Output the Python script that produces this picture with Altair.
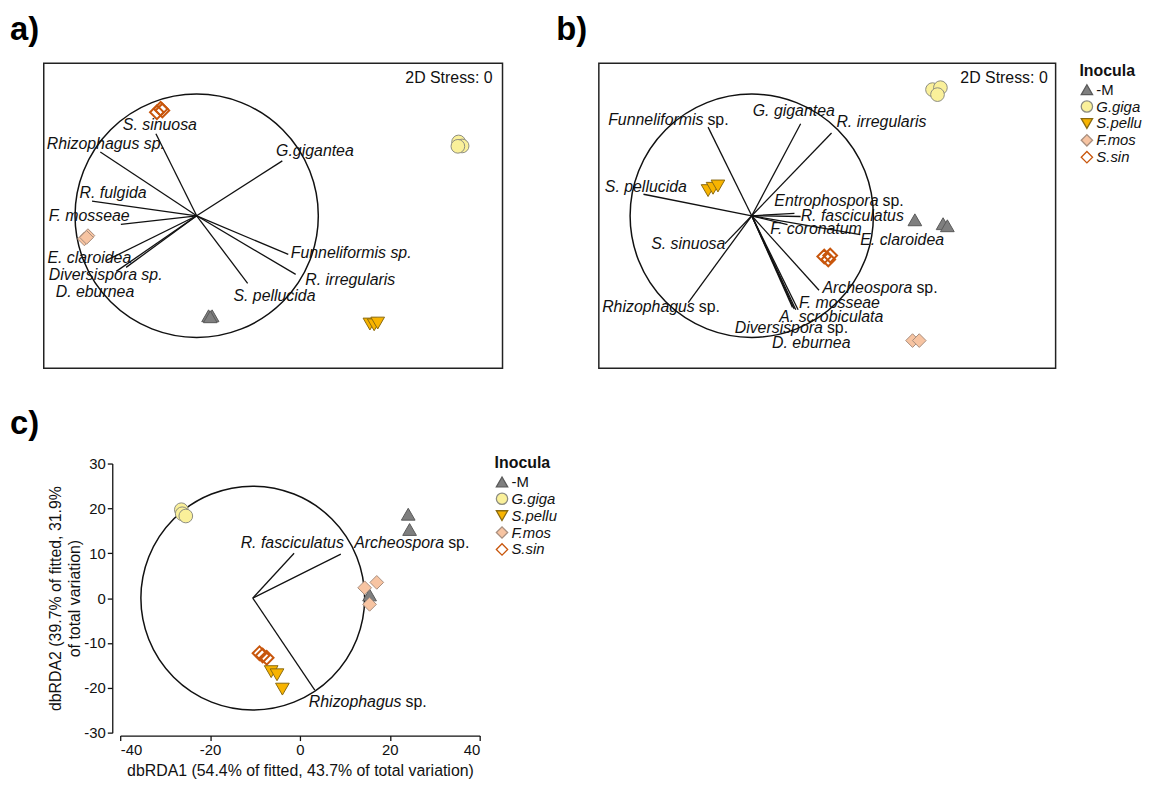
import altair as alt
import pandas as pd

FONT = "Liberation Sans"
INK = "#111111"

# ---------------- shared groups ----------------
GROUPS = ["-M", "G.giga", "S.pellu", "F.mos", "S.sin"]
FILL_RANGE = ["#7f7f7f", "#faf09a", "#f8b400", "#f7c4a2", "transparent"]
STROKE_RANGE = ["#5a5a5a", "#8c8c80", "#8a6a10", "#a88e7e", "#c8560c"]
SHAPE_RANGE = ["triangle-up", "circle", "triangle-down", "diamond", "diamond"]

# ---------------- panel a (NMDS, circle radius = 1) ----------------
A_VEC_NAMES = ["S. sinuosa", "Rhizophagus sp.", "G.gigantea", "R. fulgida", "F. mosseae",
               "E. claroidea", "Diversispora sp.", "D. eburnea", "S. pellucida",
               "Funneliformis sp.", "R. irregularis"]
A_VEC_X = [-0.335, -0.792, 0.704, -0.860, -0.623, -0.743, -0.661, -0.580, 0.419, 0.753, 0.814]
A_VEC_Y = [0.675, 0.525, 0.451, 0.120, -0.071, -0.367, -0.457, -0.424, -0.555, -0.318, -0.482]
A_LAB_X = [-0.607, -1.233, 0.653, -0.963, -1.216, -1.227, -1.216, -1.159, 0.302, 0.773, 0.893]
A_LAB_Y = [0.743, 0.588, 0.531, 0.188, 0.002, -0.351, -0.490, -0.626, -0.661, -0.310, -0.531]
A_PT_GROUP = ["S.sin"] * 3 + ["G.giga"] * 3 + ["F.mos"] * 3 + ["-M"] * 3 + ["S.pellu"] * 3
A_PT_X = [-0.296, -0.327, -0.282, 2.153, 2.182, 2.147, -0.894, -0.923, -0.905,
          0.098, 0.127, 0.112, 1.424, 1.459, 1.488]
A_PT_Y = [0.879, 0.851, 0.865, 0.607, 0.574, 0.571, -0.163, -0.190, -0.178,
          -0.822, -0.822, -0.830, -0.890, -0.896, -0.882]

# ---------------- panel b ----------------
B_VEC_NAMES = ["Funneliformis sp.", "G. gigantea", "R. irregularis", "S. pellucida",
               "Entrophospora sp.", "R. fasciculatus", "F. coronatum", "E. claroidea",
               "Archeospora sp.", "S. sinuosa", "Rhizophagus sp.", "F. mosseae",
               "A. scrobiculata", "Diversispora sp.", "D. eburnea"]
B_VEC_X = [-0.359, 0.402, 0.656, -0.890, 0.351, 0.402, 0.294, 0.892, 0.553, -0.220,
           -0.522, 0.381, 0.362, 0.349, 0.335]
B_VEC_Y = [0.729, 0.757, 0.680, 0.177, 0.020, -0.006, -0.073, -0.155, -0.612, -0.229,
           -0.713, -0.773, -0.773, -0.767, -0.753]
B_LAB_TEXT = ["G. gigantea", "R. irregularis", "S. pellucida", "R. fasciculatus",
              "F. coronatum", "E. claroidea", "S. sinuosa", "F. mosseae",
              "A. scrobiculata", "D. eburnea"]
B_LAB_X = [0.008, 0.696, -1.208, 0.402, 0.153, 0.892, -0.827, 0.389, 0.226, 0.166]
B_LAB_Y = [0.865, 0.770, 0.239, -0.006, -0.109, -0.196, -0.229, -0.721, -0.830, -1.047]
B_SP_TEXT = ["Funneliformis", "Entrophospora", "Archeospora", "Diversispora", "Rhizophagus"]
B_SP_X = [-0.397, 1.042, 1.321, 0.585, -0.468]
B_SP_Y = [0.784, 0.122, -0.590, -0.925, -0.753]
B_PT_GROUP = ["G.giga"] * 3 + ["S.pellu"] * 3 + ["-M"] * 3 + ["S.sin"] * 3 + ["F.mos"] * 2
B_PT_X = [1.486, 1.551, 1.527, -0.359, -0.318, -0.278, 1.341, 1.573, 1.608,
          0.596, 0.629, 0.645, 1.322, 1.377]
B_PT_Y = [1.037, 1.053, 0.996, 0.207, 0.226, 0.245, -0.033, -0.065, -0.082,
          -0.335, -0.359, -0.327, -1.026, -1.026]

STRESS_TEXT = "2D Stress: 0"
STRESS_POS = (2.433, 1.13)

# ---------------- panel c (dbRDA) ----------------
C_CENTER = (-10.5, 0.0)
C_VEC_NAMES = ["R. fasciculatus", "Archeospora sp.", "Rhizophagus sp."]
C_VEC_X = [-1.3, 9.1, 3.3]
C_VEC_Y = [10.0, 9.8, -20.5]
C_LAB_TEXT = ["R. fasciculatus"]
C_LAB_X = [-13.2]
C_LAB_Y = [12.2]
C_SP_TEXT = ["Archeospora", "Rhizophagus"]
C_SP_X = [32.1, 22.6]
C_SP_Y = [12.2, -23.1]
C_PT_GROUP = ["G.giga"] * 3 + ["-M"] * 3 + ["F.mos"] * 3 + ["S.sin"] * 3 + ["S.pellu"] * 3
C_PT_X = [-26.4, -26.2, -25.4, 24.1, 24.4, 15.5, 14.4, 17.1, 15.5,
          -9.0, -8.3, -7.4, -6.4, -5.1, -3.9]
C_PT_Y = [19.7, 18.8, 18.3, 18.7, 15.3, 0.7, 2.3, 3.5, -1.4,
          -12.3, -12.8, -13.3, -16.4, -17.1, -20.3]
C_X_TICKS = [-40, -20, 0, 20, 40]
C_Y_TICKS = [-30, -20, -10, 0, 10, 20, 30]
C_X_TITLE = "dbRDA1 (54.4% of fitted, 43.7% of total variation)"
C_Y_TITLE = ["dbRDA2 (39.7% of fitted, 31.9%", "of total variation)"]

# layout (pixels)
A_W, B_W, NMDS_H = 462, 460, 307
C_LEFT_GAP, C_PLOT_W, C_H = 77, 362, 271


def inocula_legend(**pos):
    return alt.Legend(
        title="Inocula",
        titleFont=FONT, titleFontSize=16, titleFontWeight="bold", titleColor=INK,
        titlePadding=3,
        labelFont=FONT, labelFontSize=15, labelColor=INK,
        labelFontStyle=alt.ExprRef(expr="datum.label == '-M' ? 'normal' : 'italic'"),
        symbolSize=130, symbolStrokeWidth=1.3, rowPadding=0, labelOffset=2, padding=0,
        **pos,
    )


def build_panel(xs, ys, width, height, center, circle_size,
                vec_x, vec_y, lab_text, lab_x, lab_y, sp_text, sp_x, sp_y,
                pt_group, pt_x, pt_y, legend, xaxis=None, yaxis=None,
                stress=False, framed=True, title=None):
    def X(f):
        return alt.X(f, type="quantitative", scale=xs, axis=xaxis)

    def Y(f):
        return alt.Y(f, type="quantitative", scale=ys, axis=yaxis)

    layers = []
    circ = pd.DataFrame({"x": [center[0]], "y": [center[1]]})
    layers.append(alt.Chart(circ).mark_point(
        shape="circle", size=circle_size, filled=False, stroke=INK,
        strokeWidth=1.5, opacity=1).encode(x=X("x"), y=Y("y")))

    n = len(vec_x)
    vec = pd.DataFrame({"x0": [center[0]] * n, "y0": [center[1]] * n,
                        "x1": vec_x, "y1": vec_y})
    layers.append(alt.Chart(vec).mark_rule(color=INK, strokeWidth=1.3).encode(
        x=X("x0"), y=Y("y0"), x2="x1", y2="y1"))

    lab = pd.DataFrame({"label": lab_text, "x": lab_x, "y": lab_y})
    layers.append(alt.Chart(lab).mark_text(
        align="left", baseline="middle", font=FONT, fontSize=16,
        fontStyle="italic", color=INK).encode(x=X("x"), y=Y("y"), text="label:N"))

    if sp_text:
        sp = pd.DataFrame({"genus": sp_text, "suffix": ["sp."] * len(sp_text),
                           "x": sp_x, "y": sp_y})
        layers.append(alt.Chart(sp).mark_text(
            align="right", baseline="middle", font=FONT, fontSize=16,
            fontStyle="italic", color=INK).encode(x=X("x"), y=Y("y"), text="genus:N"))
        layers.append(alt.Chart(sp).mark_text(
            align="left", baseline="middle", font=FONT, fontSize=16, dx=4,
            color=INK).encode(x=X("x"), y=Y("y"), text="suffix:N"))

    if stress:
        st = pd.DataFrame({"t": [STRESS_TEXT], "x": [STRESS_POS[0]], "y": [STRESS_POS[1]]})
        layers.append(alt.Chart(st).mark_text(
            align="right", baseline="middle", font=FONT, fontSize=16,
            color=INK).encode(x=X("x"), y=Y("y"), text="t:N"))

    pts = pd.DataFrame({"Inocula": pt_group, "x": pt_x, "y": pt_y})

    def sc(r):
        return alt.Scale(domain=GROUPS, range=r)

    layers.append(alt.Chart(pts).mark_point(filled=True, size=190, opacity=1).encode(
        x=X("x"), y=Y("y"),
        fill=alt.Fill("Inocula:N", scale=sc(FILL_RANGE), legend=legend),
        stroke=alt.Stroke("Inocula:N", scale=sc(STROKE_RANGE), legend=legend),
        shape=alt.Shape("Inocula:N", scale=sc(SHAPE_RANGE), legend=legend),
        strokeWidth=alt.condition(alt.datum.Inocula == "S.sin", alt.value(2), alt.value(1)),
    ))

    props = dict(width=width, height=height)
    if title is not None:
        props["title"] = title
    if framed:
        props["view"] = alt.ViewBackground(stroke="#222222", strokeWidth=1.5)
    return alt.layer(*layers).properties(**props)


def panel_title(text, dx, offset):
    return alt.TitleParams(text=text, anchor="start", frame="group", dx=dx, offset=offset,
                           fontSize=33, fontWeight="bold", font=FONT, color="#000000")


def lin(dom):
    return alt.Scale(domain=dom, nice=False, zero=False)


NMDS_CIRCLE = 245 ** 2

chart_a = build_panel(lin([-1.257, 2.514]), lin([-1.253, 1.253]), A_W, NMDS_H,
                      (0.0, 0.0), NMDS_CIRCLE,
                      A_VEC_X, A_VEC_Y, A_VEC_NAMES, A_LAB_X, A_LAB_Y, [], [], [],
                      A_PT_GROUP, A_PT_X, A_PT_Y, legend=None, stress=True,
                      title=panel_title("a)", -34, 17))

chart_b = build_panel(lin([-1.257, 2.498]), lin([-1.253, 1.253]), B_W, NMDS_H,
                      (0.0, 0.0), NMDS_CIRCLE,
                      B_VEC_X, B_VEC_Y, B_LAB_TEXT, B_LAB_X, B_LAB_Y,
                      B_SP_TEXT, B_SP_X, B_SP_Y,
                      B_PT_GROUP, B_PT_X, B_PT_Y,
                      legend=inocula_legend(orient="right", offset=24), stress=True,
                      title=panel_title("b)", -43, 17))

c_xaxis = alt.Axis(values=C_X_TICKS, title=C_X_TITLE, grid=False, offset=3, tickSize=5,
                   tickWidth=1.3, domainWidth=1.3, domainColor=INK, tickColor=INK,
                   labelColor=INK, labelFont=FONT, labelFontSize=15, labelPadding=2,
                   titleFont=FONT, titleFontSize=16, titleFontWeight="normal",
                   titleColor=INK, titlePadding=5, labelExpr="toString(datum.value)")
c_yaxis = alt.Axis(values=C_Y_TICKS, title=C_Y_TITLE, grid=False,
                   offset=-(C_LEFT_GAP - 8), tickSize=5,
                   tickWidth=1.3, domainWidth=1.3, domainColor=INK, tickColor=INK,
                   labelColor=INK, labelFont=FONT, labelFontSize=15, labelPadding=2,
                   titleFont=FONT, titleFontSize=16, titleFontWeight="normal",
                   titleColor=INK, titlePadding=1, titleLineHeight=19,
                   labelExpr="toString(datum.value)")

C_CIRCLE = (2 * 24.9 * C_PLOT_W / 80) ** 2
c_xscale = alt.Scale(domain=[-40, 40], range=[C_LEFT_GAP, C_LEFT_GAP + C_PLOT_W],
                     nice=False, zero=False)

chart_c = build_panel(c_xscale, lin([-30, 30]), C_LEFT_GAP + C_PLOT_W, C_H,
                      C_CENTER, C_CIRCLE,
                      C_VEC_X, C_VEC_Y, C_LAB_TEXT, C_LAB_X, C_LAB_Y,
                      C_SP_TEXT, C_SP_X, C_SP_Y,
                      C_PT_GROUP, C_PT_X, C_PT_Y,
                      legend=inocula_legend(orient="none",
                                            legendX=C_LEFT_GAP + C_PLOT_W + 15,
                                            legendY=-8),
                      xaxis=c_xaxis, yaxis=c_yaxis, framed=False,
                      title=panel_title("c)", -34, 15))

RES = dict(x="independent", y="independent", fill="independent",
           stroke="independent", shape="independent")

top = alt.hconcat(chart_a, chart_b, spacing=52).resolve_scale(**RES)

chart = alt.vconcat(top, chart_c, spacing=38).resolve_scale(**RES).properties(
    padding={"left": 1, "top": 2, "right": 0, "bottom": 5}
).configure(font=FONT).configure_view(stroke="transparent")

chart.save("out.html", embed_options={"renderer": "svg", "actions": False})
